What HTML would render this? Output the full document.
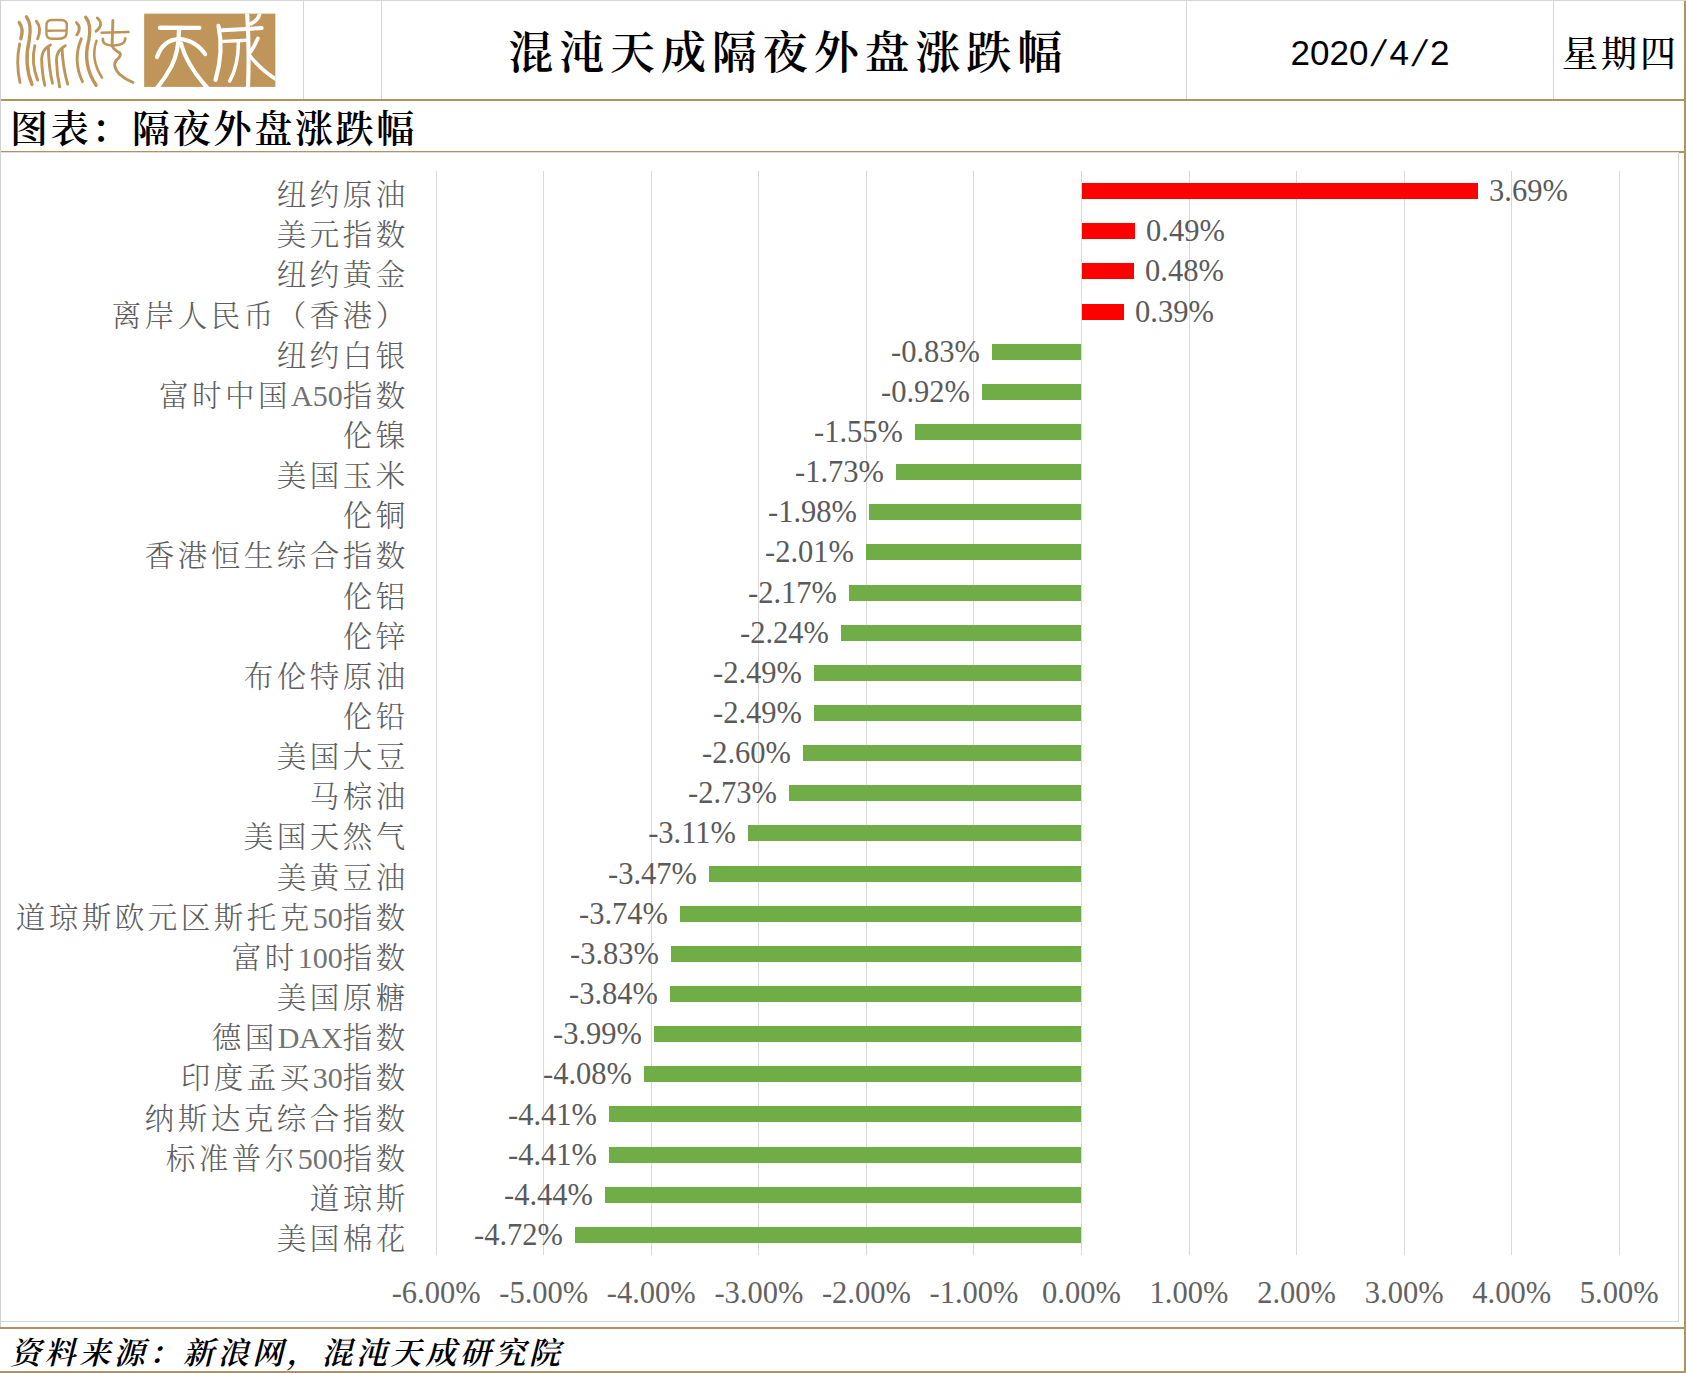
<!DOCTYPE html>
<html lang="zh-CN">
<head>
<meta charset="utf-8">
<title>混沌天成隔夜外盘涨跌幅</title>
<style>
html,body{margin:0;padding:0;background:#fff;}
body{width:1686px;height:1373px;position:relative;overflow:hidden;font-family:"Liberation Serif","Noto Serif CJK SC",serif;}
.abs{position:absolute;}
.gold{position:absolute;background:#B0935F;}
.gl{position:absolute;background:#D6D6D6;}
.g{position:absolute;top:171px;width:1px;height:1084px;background:#D9D9D9;}
.b{position:absolute;height:16px;}
.r{background:#FF0000;}
.n{background:#70AD47;}
.v{position:absolute;height:40px;line-height:40px;font-size:30.5px;color:#5a5a5a;white-space:nowrap;font-family:"Liberation Serif",serif;}
.c{position:absolute;right:1277.3px;height:40px;line-height:40px;font-size:29.5px;letter-spacing:3.5px;color:#5e5e5e;white-space:nowrap;font-family:"Liberation Serif","Noto Serif CJK SC",serif;font-weight:300;}
.c span{letter-spacing:0;font-size:30px;font-weight:400;color:#727272;}
.a{position:absolute;top:1273px;width:120px;text-align:center;height:40px;line-height:40px;font-size:30.5px;color:#626262;white-space:nowrap;font-family:"Liberation Serif",serif;}
.sl{display:inline-block;width:21px;text-align:center;transform:skewX(-15deg) scaleY(1.06);}
.kb{font-family:"Liberation Serif","Noto Serif CJK SC",serif;font-weight:700;color:#000;white-space:nowrap;}
</style>
</head>
<body>
<!-- header grid lines -->
<div class="gl" style="left:0;top:0;width:1686px;height:1px;"></div>
<div class="gl" style="left:0;top:0;width:1px;height:1327px;"></div>
<div class="gl" style="left:303px;top:0;width:1px;height:99px;"></div>
<div class="gl" style="left:381px;top:0;width:1px;height:99px;"></div>
<div class="gl" style="left:1186px;top:0;width:1px;height:99px;"></div>
<div class="gl" style="left:1553px;top:0;width:1px;height:99px;"></div>
<!-- gold rules -->
<div class="gold" style="left:0;top:99px;width:1686px;height:2px;"></div>
<div class="gold" style="left:0;top:151px;width:1686px;height:2px;"></div>
<div class="gold" style="left:0;top:1327px;width:1686px;height:2px;"></div>
<div class="gold" style="left:0;top:1371px;width:1686px;height:2px;"></div>
<div class="gold" style="left:1684px;top:1px;width:2px;height:1372px;"></div>
<!-- chart border (drawn over the gold rule) -->
<div class="abs" style="left:0;top:152px;width:1679px;height:1px;background:#DEDEE4;"></div>
<div class="gl" style="left:1678px;top:153px;width:1px;height:1169px;"></div>
<div class="gl" style="left:0;top:1321px;width:1679px;height:1px;"></div>
<div class="gl" style="left:0;top:0;width:1px;height:1327px;background:#D0D0D0;"></div>
<!--LOGO_START-->
<!-- logo: seal-script strokes (混沌) in gold, viewBox in 12.489x zoom coords of region [10,8,145,95] -->
<svg class="abs" role="img" aria-label="混沌" style="left:10px;top:8px;" width="135" height="87.04" viewBox="0 0 1686 1087" fill="none" stroke="#BF9459" stroke-width="36" stroke-linecap="round" stroke-linejoin="round">
<!-- 混: water radical -->
<path d="M115 180 Q175 260 135 385" stroke-width="42"/>
<path d="M120 450 Q70 690 125 930"/>
<path d="M205 110 Q275 200 240 400 Q170 700 275 955" stroke-width="42"/>
<path d="M330 165 Q400 250 345 385"/>
<path d="M310 470 Q260 680 345 900"/>
<!-- 日 -->
<path d="M520 150 L640 150 Q710 150 710 220 L705 320 Q700 385 600 385 L520 385 Q455 385 455 320 L455 220 Q455 150 520 150 Z M462 285 L703 280" stroke-width="30"/>
<!-- 比 (seal form) -->
<path d="M505 462 Q395 520 395 640 Q400 820 435 965"/>
<path d="M480 490 Q480 720 530 940"/>
<path d="M690 472 Q580 530 580 650 Q585 830 620 985"/>
<path d="M650 510 Q660 740 720 950"/>
<!-- 沌: water radical -->
<path d="M830 180 Q900 250 835 335"/>
<path d="M890 385 Q780 650 905 920"/>
<path d="M945 115 Q1020 200 985 400 Q900 700 1075 965" stroke-width="42"/>
<path d="M1090 125 Q1180 200 1075 290"/>
<path d="M1080 410 Q1000 640 1150 870" stroke-width="32"/>
<!-- 屯 -->
<path d="M1285 155 L1275 470 Q1290 520 1370 560 Q1400 590 1330 650 Q1270 720 1370 830 Q1450 900 1535 930"/>
<path d="M1145 310 L1480 300" stroke-width="32"/>
<path d="M1160 385 Q1150 460 1270 468 Q1440 475 1440 378" stroke-width="32"/>
</svg>
<!-- logo: gold box with white strokes (天成), viewBox in 12.043x zoom coords of region [140,8,280,95] -->
<svg class="abs" role="img" aria-label="天成" style="left:140px;top:8px;" width="140" height="87.02" viewBox="0 0 1686 1048" fill="none" stroke="#ffffff" stroke-width="50" stroke-linecap="round" stroke-linejoin="round">
<rect x="50" y="68" width="1580" height="882" fill="#C0955A" stroke="none"/>
<clipPath id="lc"><rect x="50" y="68" width="1580" height="882"/></clipPath>
<g clip-path="url(#lc)">
<!-- 天 -->
<path d="M240 238 L715 240" stroke-width="52"/>
<path d="M205 590 Q280 380 470 375 Q660 380 785 555" stroke-width="50"/>
<path d="M470 250 Q470 520 380 700 Q300 850 200 970"/>
<path d="M495 430 Q560 680 810 960"/>
<!-- 成 -->
<path d="M945 215 Q1010 520 910 865" stroke-width="50"/>
<path d="M990 268 L1465 242" stroke-width="48"/>
<path d="M1005 402 L1295 388" stroke-width="42"/>
<path d="M1185 410 Q1185 700 1080 880" stroke-width="42"/>
<path d="M1290 60 Q1320 500 1300 960" stroke-width="50"/>
<path d="M1440 75 Q1420 150 1335 190" stroke-width="44"/>
<path d="M1420 365 Q1370 480 1310 560 Q1450 740 1640 860" stroke-width="44"/>
</g>
</svg>
<!--LOGO_END-->
<!-- header text -->
<div class="abs kb" style="left:382px;top:19px;width:804px;height:70px;line-height:70px;text-align:center;font-size:45px;letter-spacing:5.9px;text-indent:8.4px;font-weight:600;">混沌天成隔夜外盘涨跌幅</div>
<div class="abs" style="left:1187px;top:17.5px;width:366px;height:70px;line-height:70px;text-align:center;font-size:35px;text-indent:0px;color:#000;font-family:'Liberation Sans',sans-serif;white-space:nowrap;">2020<span class="sl">/</span>4<span class="sl">/</span>2</div>
<div class="abs" style="left:1554px;top:20px;width:130px;height:70px;line-height:70px;text-align:center;font-size:36px;letter-spacing:3px;text-indent:3px;font-weight:500;color:#000;white-space:nowrap;">星期四</div>
<div class="abs kb" style="left:10px;top:105px;height:48px;line-height:48px;font-size:38px;letter-spacing:2.7px;font-weight:600;">图表：隔夜外盘涨跌幅</div>
<div class="abs kb" style="left:10px;top:1333.6px;height:40px;line-height:40px;font-size:31px;letter-spacing:3.6px;font-style:italic;font-weight:600;">资料来源：新浪网，混沌天成研究院</div>
<!-- chart -->
<div class="g" style="left:436px"></div>
<div class="g" style="left:543px"></div>
<div class="g" style="left:651px"></div>
<div class="g" style="left:758px"></div>
<div class="g" style="left:866px"></div>
<div class="g" style="left:973px"></div>
<div class="g" style="left:1081px"></div>
<div class="g" style="left:1189px"></div>
<div class="g" style="left:1296px"></div>
<div class="g" style="left:1404px"></div>
<div class="g" style="left:1511px"></div>
<div class="g" style="left:1619px"></div>
<div class="b r" style="left:1082.0px;top:183px;width:396.0px"></div>
<div class="v" style="left:1489.0px;top:171.1px">3.69%</div>
<div class="c" style="top:175.1px">纽约原油</div>
<div class="b r" style="left:1082.0px;top:223px;width:53.0px"></div>
<div class="v" style="left:1146.0px;top:211.2px">0.49%</div>
<div class="c" style="top:215.2px">美元指数</div>
<div class="b r" style="left:1082.0px;top:263px;width:52.0px"></div>
<div class="v" style="left:1145.0px;top:251.4px">0.48%</div>
<div class="c" style="top:255.4px">纽约黄金</div>
<div class="b r" style="left:1082.0px;top:304px;width:42.0px"></div>
<div class="v" style="left:1135.0px;top:291.5px">0.39%</div>
<div class="c" style="top:295.5px">离岸人民币（香港）</div>
<div class="b n" style="left:992.0px;top:344px;width:89.0px"></div>
<div class="v vr" style="right:706.0px;top:331.7px">-0.83%</div>
<div class="c" style="top:335.7px">纽约白银</div>
<div class="b n" style="left:982.0px;top:384px;width:99.0px"></div>
<div class="v vr" style="right:716.0px;top:371.8px">-0.92%</div>
<div class="c" style="top:375.8px">富时中国<span>A50</span>指数</div>
<div class="b n" style="left:915.0px;top:424px;width:166.0px"></div>
<div class="v vr" style="right:783.0px;top:412.0px">-1.55%</div>
<div class="c" style="top:416.0px">伦镍</div>
<div class="b n" style="left:896.0px;top:464px;width:185.0px"></div>
<div class="v vr" style="right:802.0px;top:452.1px">-1.73%</div>
<div class="c" style="top:456.1px">美国玉米</div>
<div class="b n" style="left:869.0px;top:504px;width:212.0px"></div>
<div class="v vr" style="right:829.0px;top:492.3px">-1.98%</div>
<div class="c" style="top:496.3px">伦铜</div>
<div class="b n" style="left:866.0px;top:544px;width:215.0px"></div>
<div class="v vr" style="right:832.0px;top:532.4px">-2.01%</div>
<div class="c" style="top:536.4px">香港恒生综合指数</div>
<div class="b n" style="left:849.0px;top:585px;width:232.0px"></div>
<div class="v vr" style="right:849.0px;top:572.6px">-2.17%</div>
<div class="c" style="top:576.6px">伦铝</div>
<div class="b n" style="left:841.0px;top:625px;width:240.0px"></div>
<div class="v vr" style="right:857.0px;top:612.7px">-2.24%</div>
<div class="c" style="top:616.7px">伦锌</div>
<div class="b n" style="left:814.0px;top:665px;width:267.0px"></div>
<div class="v vr" style="right:884.0px;top:652.9px">-2.49%</div>
<div class="c" style="top:656.9px">布伦特原油</div>
<div class="b n" style="left:814.0px;top:705px;width:267.0px"></div>
<div class="v vr" style="right:884.0px;top:693.0px">-2.49%</div>
<div class="c" style="top:697.0px">伦铅</div>
<div class="b n" style="left:803.0px;top:745px;width:278.0px"></div>
<div class="v vr" style="right:895.0px;top:733.1px">-2.60%</div>
<div class="c" style="top:737.1px">美国大豆</div>
<div class="b n" style="left:789.0px;top:785px;width:292.0px"></div>
<div class="v vr" style="right:909.0px;top:773.3px">-2.73%</div>
<div class="c" style="top:777.3px">马棕油</div>
<div class="b n" style="left:748.0px;top:825px;width:333.0px"></div>
<div class="v vr" style="right:950.0px;top:813.4px">-3.11%</div>
<div class="c" style="top:817.4px">美国天然气</div>
<div class="b n" style="left:709.0px;top:866px;width:372.0px"></div>
<div class="v vr" style="right:989.0px;top:853.6px">-3.47%</div>
<div class="c" style="top:857.6px">美黄豆油</div>
<div class="b n" style="left:680.0px;top:906px;width:401.0px"></div>
<div class="v vr" style="right:1018.0px;top:893.7px">-3.74%</div>
<div class="c" style="top:897.7px">道琼斯欧元区斯托克<span>50</span>指数</div>
<div class="b n" style="left:671.0px;top:946px;width:410.0px"></div>
<div class="v vr" style="right:1027.0px;top:933.9px">-3.83%</div>
<div class="c" style="top:937.9px">富时<span>100</span>指数</div>
<div class="b n" style="left:670.0px;top:986px;width:411.0px"></div>
<div class="v vr" style="right:1028.0px;top:974.0px">-3.84%</div>
<div class="c" style="top:978.0px">美国原糖</div>
<div class="b n" style="left:654.0px;top:1026px;width:427.0px"></div>
<div class="v vr" style="right:1044.0px;top:1014.2px">-3.99%</div>
<div class="c" style="top:1018.2px">德国<span>DAX</span>指数</div>
<div class="b n" style="left:644.0px;top:1066px;width:437.0px"></div>
<div class="v vr" style="right:1054.0px;top:1054.3px">-4.08%</div>
<div class="c" style="top:1058.3px">印度孟买<span>30</span>指数</div>
<div class="b n" style="left:609.0px;top:1106px;width:472.0px"></div>
<div class="v vr" style="right:1089.0px;top:1094.5px">-4.41%</div>
<div class="c" style="top:1098.5px">纳斯达克综合指数</div>
<div class="b n" style="left:609.0px;top:1147px;width:472.0px"></div>
<div class="v vr" style="right:1089.0px;top:1134.6px">-4.41%</div>
<div class="c" style="top:1138.6px">标准普尔<span>500</span>指数</div>
<div class="b n" style="left:605.0px;top:1187px;width:476.0px"></div>
<div class="v vr" style="right:1093.0px;top:1174.8px">-4.44%</div>
<div class="c" style="top:1178.8px">道琼斯</div>
<div class="b n" style="left:575.0px;top:1227px;width:506.0px"></div>
<div class="v vr" style="right:1123.0px;top:1214.9px">-4.72%</div>
<div class="c" style="top:1218.9px">美国棉花</div>
<div class="a" style="left:376.2px">-6.00%</div>
<div class="a" style="left:483.8px">-5.00%</div>
<div class="a" style="left:591.3px">-4.00%</div>
<div class="a" style="left:698.9px">-3.00%</div>
<div class="a" style="left:806.4px">-2.00%</div>
<div class="a" style="left:914.0px">-1.00%</div>
<div class="a" style="left:1021.5px">0.00%</div>
<div class="a" style="left:1129.0px">1.00%</div>
<div class="a" style="left:1236.6px">2.00%</div>
<div class="a" style="left:1344.2px">3.00%</div>
<div class="a" style="left:1451.7px">4.00%</div>
<div class="a" style="left:1559.2px">5.00%</div>
</body>
</html>
